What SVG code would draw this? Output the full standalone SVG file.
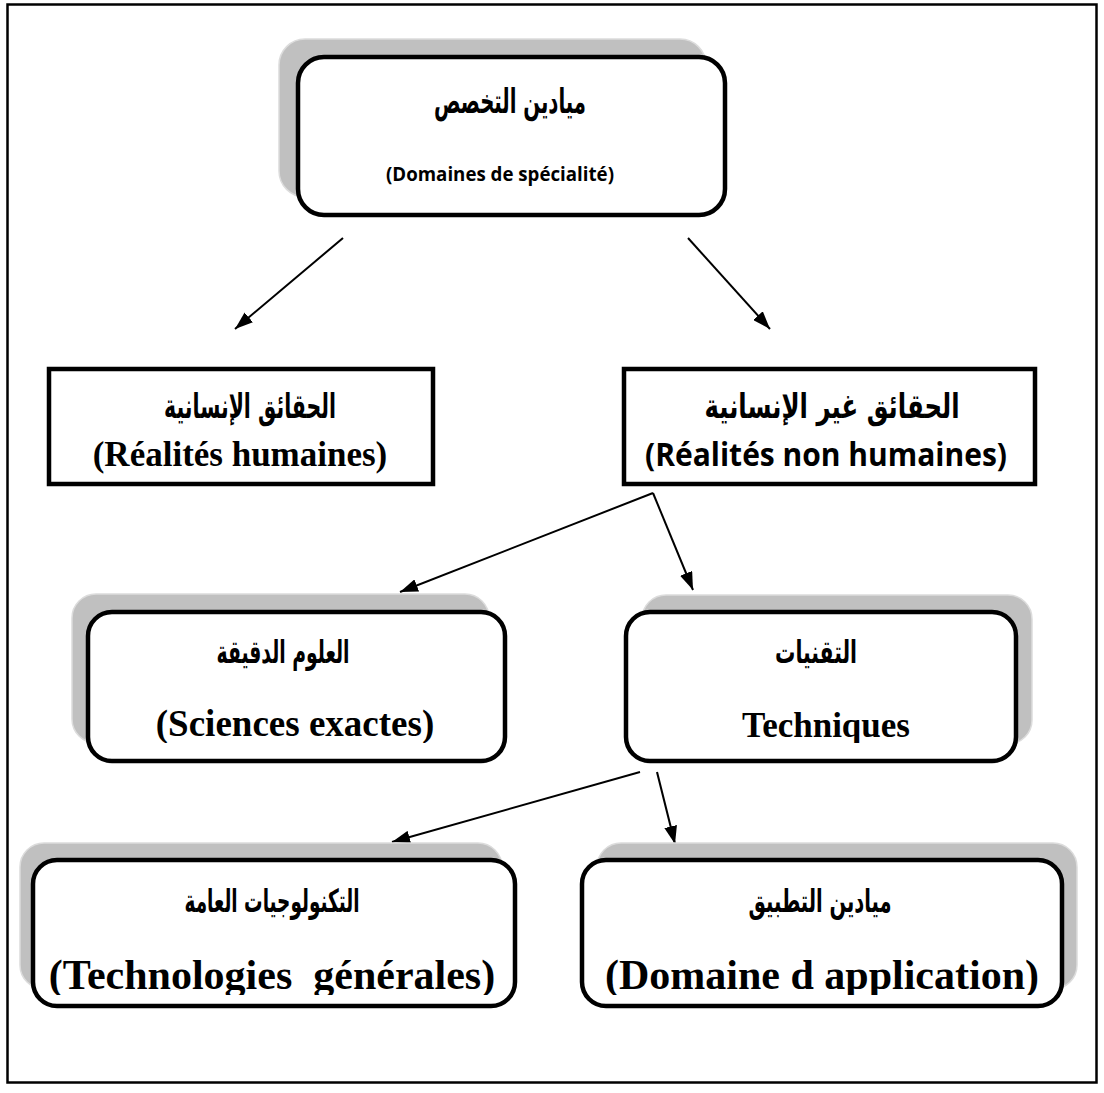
<svg xmlns="http://www.w3.org/2000/svg" width="1104" height="1093" viewBox="0 0 1104 1093">
<style>
.frame{fill:none;stroke:#000;stroke-width:2.5}
.shadow{fill:#c0c0c0;stroke:#dcdcdc;stroke-width:1.5}
.box{fill:#fff;stroke:#000;stroke-width:4.5}
.ar{font-family:"DejaVu Sans",sans-serif;font-weight:bold;fill:#000;text-anchor:middle}
.tm{font-family:"Liberation Serif","Times New Roman",serif;font-weight:bold;fill:#000;text-anchor:middle}
.sn{font-family:"Open Sans","Noto Sans",sans-serif;font-weight:bold;fill:#000;text-anchor:middle}
.conn{stroke:#000;stroke-width:2;fill:none;marker-end:url(#ah)}
</style>
<defs>
<marker id="ah" viewBox="0 0 18 13" refX="18" refY="6.5" markerWidth="18" markerHeight="13" markerUnits="userSpaceOnUse" orient="auto">
<path d="M0,0 L18,6.5 L0,13 z" fill="#000"/>
</marker>
<clipPath id="c3l"><rect x="88" y="612" width="417" height="131"/></clipPath>
<clipPath id="c3r"><rect x="626" y="612" width="390" height="131"/></clipPath>
<clipPath id="c4l"><rect x="33" y="860" width="482" height="135"/></clipPath>
<clipPath id="c4r"><rect x="582" y="860" width="480" height="135"/></clipPath>
</defs>
<rect class="frame" x="7.5" y="4.5" width="1089" height="1078"/>

<g id="connectors">
<line class="conn" x1="343" y1="238" x2="235" y2="329"/>
<line class="conn" x1="688" y1="238" x2="770" y2="329"/>
<line class="conn" x1="653" y1="493" x2="400" y2="592"/>
<line class="conn" x1="653" y1="493" x2="693" y2="590"/>
<line class="conn" x1="640" y1="772" x2="392" y2="842"/>
<line class="conn" x1="657" y1="772" x2="675" y2="844"/>
</g>

<g id="n-domaines">
<rect class="shadow" x="279" y="39" width="427" height="158" rx="26"/>
<rect class="box" x="298" y="57" width="427" height="158" rx="26"/>
<text class="ar" x="510" y="113" style="font-size:34px" textLength="152" lengthAdjust="spacingAndGlyphs">ميادين التخصص</text>
<text class="sn" x="500" y="181" style="font-size:20px" textLength="228" lengthAdjust="spacingAndGlyphs">(Domaines de spécialité)</text>
</g>

<g id="n-humaines">
<rect class="box" x="49" y="369" width="384" height="115"/>
<text class="ar" x="250" y="418" style="font-size:34px" textLength="172" lengthAdjust="spacingAndGlyphs">الحقائق الإنسانية</text>
<text class="tm" x="240" y="466" style="font-size:35px">(Réalités humaines)</text>
</g>

<g id="n-nonhumaines">
<rect class="box" x="624" y="369" width="411" height="115"/>
<text class="ar" x="832" y="418" style="font-size:34px" textLength="255" lengthAdjust="spacingAndGlyphs">الحقائق غير الإنسانية</text>
<text class="sn" x="826" y="466" style="font-size:32px" textLength="362" lengthAdjust="spacingAndGlyphs">(Réalités non humaines)</text>
</g>

<g id="n-sciences">
<rect class="shadow" x="72" y="594" width="417" height="149" rx="24"/>
<rect class="box" x="88" y="612" width="417" height="149" rx="24"/>
<text class="ar" x="283" y="663" style="font-size:32px" textLength="133" lengthAdjust="spacingAndGlyphs">العلوم الدقيقة</text>
<text class="tm" x="295" y="736" style="font-size:37px" clip-path="url(#c3l)">(Sciences exactes)</text>
</g>

<g id="n-techniques">
<rect class="shadow" x="642" y="595" width="390" height="149" rx="24"/>
<rect class="box" x="626" y="612" width="390" height="149" rx="24"/>
<text class="ar" x="816" y="663" style="font-size:32px" textLength="82" lengthAdjust="spacingAndGlyphs">التقنيات</text>
<text class="tm" x="826" y="737" style="font-size:35px" clip-path="url(#c3r)">Techniques</text>
</g>

<g id="n-technologies">
<rect class="shadow" x="20" y="843" width="482" height="146" rx="24"/>
<rect class="box" x="33" y="860" width="482" height="146" rx="24"/>
<text class="ar" x="272" y="912" style="font-size:32px" textLength="175" lengthAdjust="spacingAndGlyphs">التكنولوجيات العامة</text>
<text class="tm" x="272" y="989" style="font-size:42px" xml:space="preserve" clip-path="url(#c4l)">(Technologies  générales)</text>
</g>

<g id="n-application">
<rect class="shadow" x="597" y="843" width="480" height="146" rx="24"/>
<rect class="box" x="582" y="860" width="480" height="146" rx="24"/>
<text class="ar" x="820" y="912" style="font-size:32px" textLength="143" lengthAdjust="spacingAndGlyphs">ميادين التطبيق</text>
<text class="tm" x="822" y="989" style="font-size:42px" clip-path="url(#c4r)">(Domaine d application)</text>
</g>
</svg>
